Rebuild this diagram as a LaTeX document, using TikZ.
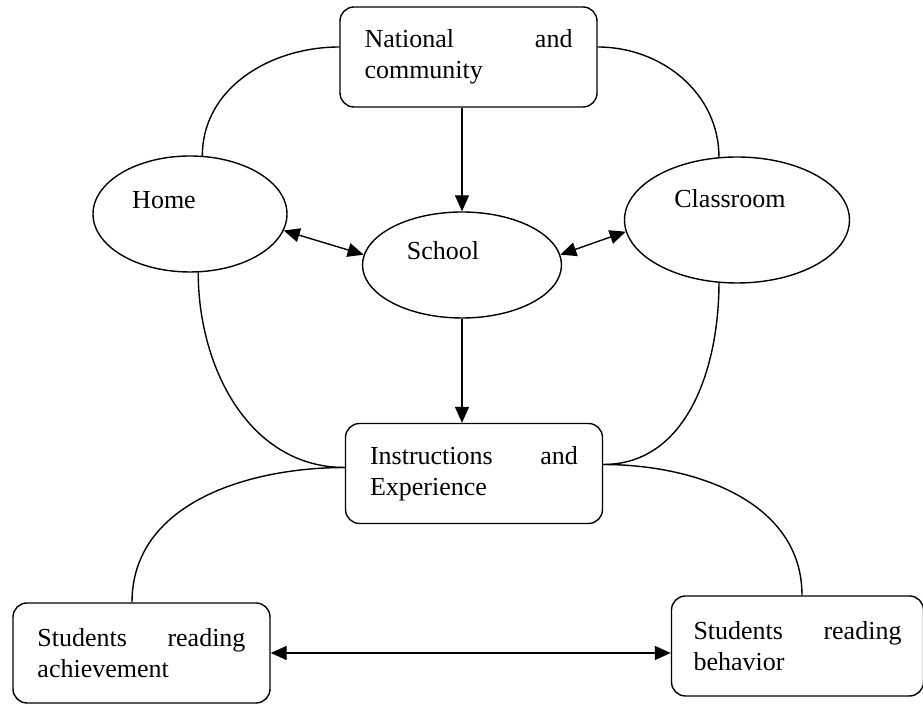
\documentclass[tikz,border=0pt]{standalone}
\usepackage{fontspec}
\setmainfont{Liberation Serif}
\usetikzlibrary{arrows.meta,shapes.geometric}
\definecolor{Ink}{HTML}{000000}

\begin{document}
\begin{tikzpicture}[x=0.5pt,y=0.5pt,
  every node/.style={font=\fontsize{13}{15.5}\selectfont, text=Ink},
  infobox/.style={draw=Ink, line width=0.7pt, rounded corners=7pt, text width=104pt, align=left, inner xsep=12.25pt, minimum height=50pt},
  place/.style={draw=Ink, line width=0.7pt, ellipse, inner sep=0pt},
  link/.style={Ink, line width=0.7pt},
  flow/.style={link, -{Triangle[length=8pt,width=7pt]}},
  both/.style={link, {Triangle[length=8pt,width=7pt]}-{Triangle[length=8pt,width=7pt]}}]
\fill[white] (0,0) rectangle (923,-704);
\useasboundingbox (0,0) rectangle (923,-704);
\node[infobox] (nat) at (468.5,-57){National \hfill and\\community};
\node[place, minimum width=97pt, minimum height=58pt, label={[shift={(-26,14)}]center:Home}] (home) at (190,-214){};
\node[place, minimum width=99.5pt, minimum height=53pt, label={[shift={(-19,14)}]center:School}] (school) at (462,-265){};
\node[place, minimum width=112.5pt, minimum height=63pt, label={[shift={(-7,21)}]center:Classroom}] (class) at (737,-220){};
\node[infobox] (ins) at (474,-473.5){Instructions \hfill and\\Experience};
\node[infobox] (ach) at (141.5,-653){Students \hfill reading\\achievement};
\node[infobox, inner xsep=11pt] (beh) at (797.5,-646){Students \hfill reading\\behavior};
\draw[link] (home.78) to[out=90,in=180] ([yshift=5pt]nat.west);
\draw[link] (class.106) to[out=90,in=0] ([yshift=5pt]nat.east);
\draw[link] (home.-82) to[out=-90,in=180] ([yshift=3pt]ins.west);
\draw[link] (class.-106) to[out=-90,in=0] ([yshift=4.5pt]ins.east);
\draw[link] ([yshift=3pt]ins.west) to[out=180,in=90] ([xshift=-4.75pt]ach.north);
\draw[link] ([yshift=4.5pt]ins.east) to[out=0,in=90] ([xshift=2.25pt]beh.north);
\draw[flow] (nat.south -| school.north) -- (school.north);
\draw[flow] (school.south) -- (school.south |- ins.north);
\draw[both] (home.-10) -- (school.174);
\draw[both] (school.6) -- (class.186);
\draw[both] (ach.east) -- (ach.east -| beh.west);
\end{tikzpicture}
\end{document}
